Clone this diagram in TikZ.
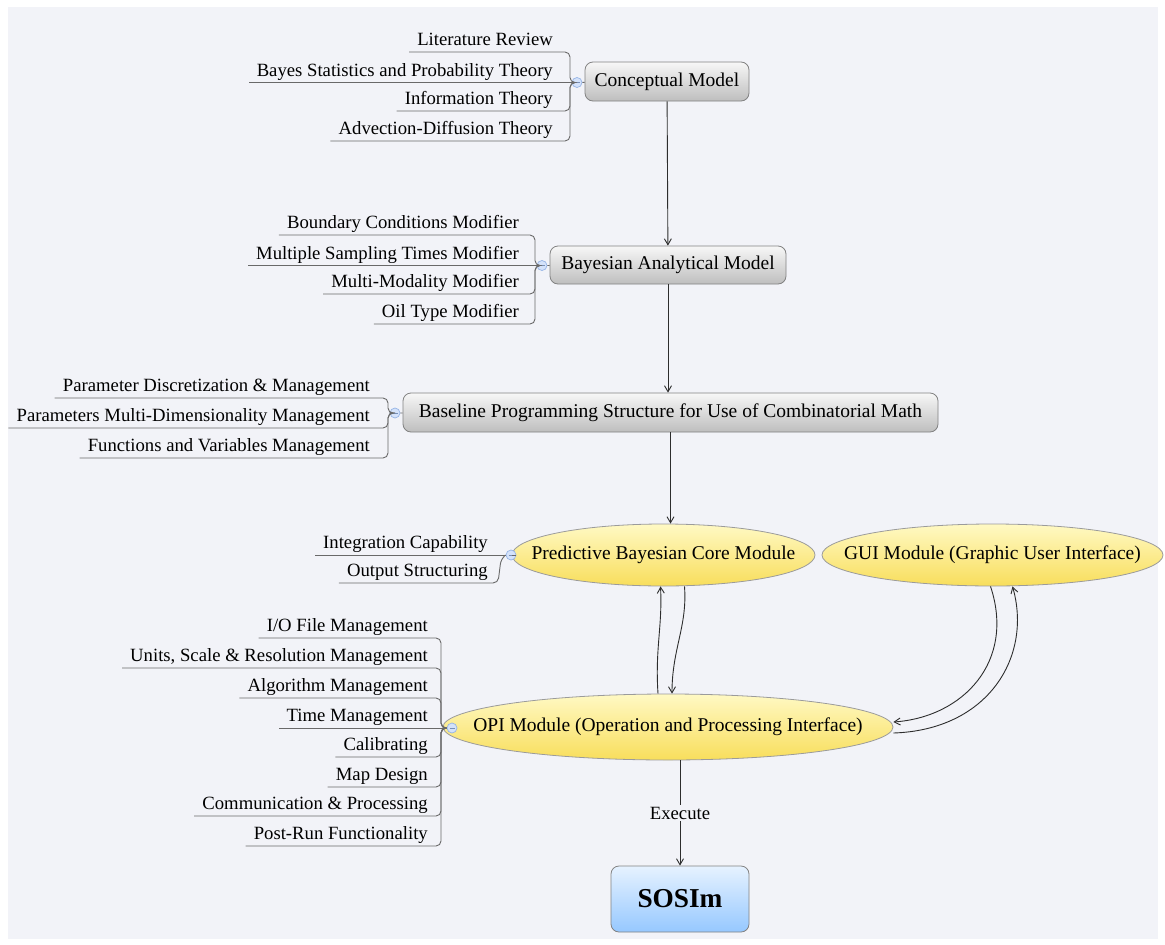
\documentclass[tikz,border=0pt]{standalone}
\usepackage{fontspec}
\setmainfont{Liberation Serif}
\usetikzlibrary{shapes.geometric,arrows.meta,calc}
\definecolor{bg}{RGB}{242,243,248}
\definecolor{ln}{RGB}{105,105,105}
\definecolor{bx}{RGB}{130,130,130}
\definecolor{gtop}{RGB}{247,247,247}
\definecolor{gbot}{RGB}{190,190,190}
\definecolor{ytop}{RGB}{255,249,196}
\definecolor{ybot}{RGB}{248,222,92}
\definecolor{btop}{RGB}{230,242,255}
\definecolor{bbot}{RGB}{150,200,255}
\definecolor{mkfill}{RGB}{212,226,250}
\definecolor{mkline}{RGB}{150,180,230}
\definecolor{arc}{RGB}{45,45,45}
\begin{document}
\begin{tikzpicture}[x=1pt,y=-1pt,
  font=\fontsize{18.7}{22}\selectfont,
  graybox/.style={draw=bx, line width=0.8pt, rounded corners=8pt, top color=gtop, bottom color=gbot, inner sep=0pt, font=\fontsize{19.5}{22}\selectfont},
  yell/.style={ellipse, draw=bx!80, line width=0.8pt, top color=ytop, bottom color=ybot, inner sep=0pt, label distance=0pt},
  bluebox/.style={draw=bx, line width=0.8pt, rounded corners=8pt, top color=btop, bottom color=bbot, inner sep=0pt, font=\fontsize{27.3}{30}\selectfont\bfseries},
  leaf/.style={anchor=south east, inner sep=0pt, text height=13pt, text depth=6pt},
  branch/.style={draw=ln, line width=0.9pt, rounded corners=5pt},
  mk/.style={circle, draw=mkline, fill=mkfill, minimum size=10pt, inner sep=0pt, line width=0.7pt,
    path picture={\draw[mkline!80!black, line width=0.7pt] ([xshift=-2.5pt]path picture bounding box.center) -- ([xshift=2.5pt]path picture bounding box.center);}},
  arr/.style={draw=arc, line width=0.9pt, -{Straight Barb[length=6pt,width=7pt]}},
  ybl/.style={font=\fontsize{19.5}{22}\selectfont}
]
\useasboundingbox (0,0) rectangle (1165,945);
\fill[white] (0,0) rectangle (1165,945);
\fill[bg] (8,7) rectangle (1158,939);

% main nodes
\node[graybox, minimum width=164pt, minimum height=39pt] (cm) at (667,81.5) {Conceptual Model};
\node[graybox, minimum width=236pt, minimum height=38pt] (bam) at (668,265) {Bayesian Analytical Model};
\node[graybox, minimum width=535pt, minimum height=39pt] (bps) at (670.5,412.5) {Baseline Programming Structure for Use of Combinatorial Math};
\node[yell, minimum width=303pt, minimum height=62pt, label={[ybl]center:Predictive Bayesian Core Module}] (pbc) at (663.5,555) {};
\node[yell, minimum width=341pt, minimum height=62pt, label={[ybl]center:GUI Module (Graphic User Interface)}] (gui) at (992.5,555) {};
\node[yell, minimum width=450pt, minimum height=66pt, label={[ybl]center:OPI Module (Operation and Processing Interface)}] (opi) at (668,727) {};
\node[bluebox, minimum width=138pt, minimum height=66pt] (sos) at (680,899) {SOSIm};

% group 1
\node[mk] (m1) at (577,82.5) {};
\draw[branch] (m1) -- (cm);
\node[leaf] (l11) at (553,52) {Literature Review};
\node[leaf] (l12) at (553,82.5) {Bayes Statistics and Probability Theory};
\node[leaf] (l13) at (553,111) {Information Theory};
\node[leaf] (l14) at (553,141) {Advection-Diffusion Theory};
\draw[branch] (m1.west) -- (570,82.5) -- (570,52) -- ([xshift=-8pt]l11.south west);
\draw[branch] (m1.west) -- ([xshift=-8pt]l12.south west);
\draw[branch] (m1.west) -- (570,82.5) -- (570,111) -- ([xshift=-8pt]l13.south west);
\draw[branch] (m1.west) -- (570,82.5) -- (570,141) -- ([xshift=-8pt]l14.south west);

% group 2
\node[mk] (m2) at (542,265.5) {};
\draw[branch] (m2) -- (bam);
\node[leaf] (l21) at (519,235) {Boundary Conditions Modifier};
\node[leaf] (l22) at (519,265.5) {Multiple Sampling Times Modifier};
\node[leaf] (l23) at (519,294) {Multi-Modality Modifier};
\node[leaf] (l24) at (519,324) {Oil Type Modifier};
\draw[branch] (m2.west) -- (535,265.5) -- (535,235) -- ([xshift=-8pt]l21.south west);
\draw[branch] (m2.west) -- ([xshift=-8pt]l22.south west);
\draw[branch] (m2.west) -- (535,265.5) -- (535,294) -- ([xshift=-8pt]l23.south west);
\draw[branch] (m2.west) -- (535,265.5) -- (535,324) -- ([xshift=-8pt]l24.south west);

% group 3
\node[mk] (m3) at (395,413) {};
\draw[branch] (m3) -- (bps);
\node[leaf] (l31) at (370,398) {Parameter Discretization \& Management};
\node[leaf] (l32) at (370,428) {Parameters Multi-Dimensionality Management};
\node[leaf] (l33) at (370,458) {Functions and Variables Management};
\draw[branch] (m3.west) -- (388,413) -- (388,398) -- ([xshift=-8pt]l31.south west);
\draw[branch] (m3.west) -- (388,413) -- (388,428) -- ([xshift=-8pt]l32.south west);
\draw[branch] (m3.west) -- (388,413) -- (388,458) -- ([xshift=-8pt]l33.south west);

% group 4
\node[mk] (m4) at (511,555) {};
\draw[branch] (m4) -- (pbc);
\node[leaf] (l41) at (488,555) {Integration Capability};
\node[leaf] (l42) at (488,583) {Output Structuring};
\draw[branch] (m4.west) -- ([xshift=-8pt]l41.south west);
\draw[branch] (m4.west) -- (501,559) -- (498,583) -- ([xshift=-8pt]l42.south west);

% group 5
\node[mk] (m5) at (452,728) {};
\draw[branch] (m5) -- (opi);
\node[leaf] (l51) at (428,638) {I/O File Management};
\node[leaf] (l52) at (428,668) {Units, Scale \& Resolution Management};
\node[leaf] (l53) at (428,698) {Algorithm Management};
\node[leaf] (l54) at (428,728) {Time Management};
\node[leaf] (l55) at (428,757) {Calibrating};
\node[leaf] (l56) at (428,787) {Map Design};
\node[leaf] (l57) at (428,816) {Communication \& Processing};
\node[leaf] (l58) at (428,846) {Post-Run Functionality};
\draw[branch] (m5.west) -- (441,728) -- (441,638) -- ([xshift=-8pt]l51.south west);
\draw[branch] (m5.west) -- (441,728) -- (441,668) -- ([xshift=-8pt]l52.south west);
\draw[branch] (m5.west) -- (441,728) -- (441,698) -- ([xshift=-8pt]l53.south west);
\draw[branch] (m5.west) -- ([xshift=-8pt]l54.south west);
\draw[branch] (m5.west) -- (441,728) -- (441,757) -- ([xshift=-8pt]l55.south west);
\draw[branch] (m5.west) -- (441,728) -- (441,787) -- ([xshift=-8pt]l56.south west);
\draw[branch] (m5.west) -- (441,728) -- (441,816) -- ([xshift=-8pt]l57.south west);
\draw[branch] (m5.west) -- (441,728) -- (441,846) -- ([xshift=-8pt]l58.south west);

% connectors
\draw[arr] (cm) -- (bam);
\draw[arr] (bam.south) -- (bam.south |- bps.north);
\draw[arr] (bps.south) -- (bps.south |- pbc.north);
\draw[arr] ([xshift=-10pt]opi.north) .. controls +(-3,-45) and +(2,40) .. ([xshift=-3pt]pbc.south);
\draw[arr] ([xshift=21pt]pbc.south) .. controls +(3,40) and +(0,-45) .. ([xshift=4pt]opi.north);
\draw[arr] ([xshift=-2pt]gui.south) .. controls +(25,75) and +(70,-5) .. ([yshift=5pt]opi.east);
\draw[arr] ([yshift=-6pt]opi.east) .. controls +(95,-3) and +(20,70) .. ([xshift=20pt]gui.south);
\draw[arr] (sos.north |- opi.south) -- (sos.north) node[midway, fill=bg, inner sep=2pt] (ex) {Execute};
\end{tikzpicture}
\end{document}
